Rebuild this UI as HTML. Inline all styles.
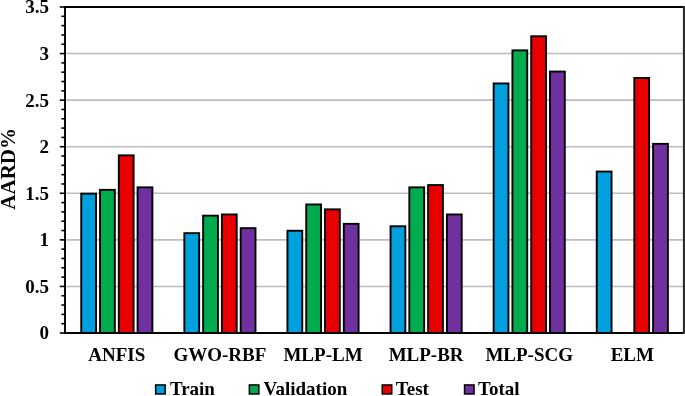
<!DOCTYPE html>
<html><head><meta charset="utf-8"><style>
html,body{margin:0;padding:0;background:#fff;width:685px;height:396px;overflow:hidden}
svg{display:block;will-change:transform}
</style></head><body>
<svg width="685" height="396" viewBox="0 0 685 396">
<rect width="685" height="396" fill="#fff"/>
<line x1="65.0" x2="683.7" y1="286.43" y2="286.43" stroke="#bdbdbd" stroke-width="1.6"/>
<line x1="65.0" x2="683.7" y1="239.86" y2="239.86" stroke="#bdbdbd" stroke-width="1.6"/>
<line x1="65.0" x2="683.7" y1="193.29" y2="193.29" stroke="#bdbdbd" stroke-width="1.6"/>
<line x1="65.0" x2="683.7" y1="146.71" y2="146.71" stroke="#bdbdbd" stroke-width="1.6"/>
<line x1="65.0" x2="683.7" y1="100.14" y2="100.14" stroke="#bdbdbd" stroke-width="1.6"/>
<line x1="65.0" x2="683.7" y1="53.57" y2="53.57" stroke="#bdbdbd" stroke-width="1.6"/>
<rect x="81.25" y="193.65" width="14.80" height="139.35" fill="#00a0de" stroke="#000" stroke-width="1.9"/>
<rect x="100.03" y="189.85" width="14.80" height="143.15" fill="#00ab4e" stroke="#000" stroke-width="1.9"/>
<rect x="118.81" y="155.35" width="14.80" height="177.65" fill="#e80000" stroke="#000" stroke-width="1.9"/>
<rect x="137.59" y="187.35" width="14.80" height="145.65" fill="#7030a0" stroke="#000" stroke-width="1.9"/>
<rect x="184.35" y="233.15" width="14.80" height="99.85" fill="#00a0de" stroke="#000" stroke-width="1.9"/>
<rect x="203.13" y="215.65" width="14.80" height="117.35" fill="#00ab4e" stroke="#000" stroke-width="1.9"/>
<rect x="221.91" y="214.45" width="14.80" height="118.55" fill="#e80000" stroke="#000" stroke-width="1.9"/>
<rect x="240.69" y="228.15" width="14.80" height="104.85" fill="#7030a0" stroke="#000" stroke-width="1.9"/>
<rect x="287.45" y="230.75" width="14.80" height="102.25" fill="#00a0de" stroke="#000" stroke-width="1.9"/>
<rect x="306.23" y="204.45" width="14.80" height="128.55" fill="#00ab4e" stroke="#000" stroke-width="1.9"/>
<rect x="325.01" y="209.35" width="14.80" height="123.65" fill="#e80000" stroke="#000" stroke-width="1.9"/>
<rect x="343.79" y="223.85" width="14.80" height="109.15" fill="#7030a0" stroke="#000" stroke-width="1.9"/>
<rect x="390.55" y="226.25" width="14.80" height="106.75" fill="#00a0de" stroke="#000" stroke-width="1.9"/>
<rect x="409.33" y="187.35" width="14.80" height="145.65" fill="#00ab4e" stroke="#000" stroke-width="1.9"/>
<rect x="428.11" y="185.05" width="14.80" height="147.95" fill="#e80000" stroke="#000" stroke-width="1.9"/>
<rect x="446.89" y="214.45" width="14.80" height="118.55" fill="#7030a0" stroke="#000" stroke-width="1.9"/>
<rect x="493.65" y="83.45" width="14.80" height="249.55" fill="#00a0de" stroke="#000" stroke-width="1.9"/>
<rect x="512.43" y="50.35" width="14.80" height="282.65" fill="#00ab4e" stroke="#000" stroke-width="1.9"/>
<rect x="531.21" y="36.25" width="14.80" height="296.75" fill="#e80000" stroke="#000" stroke-width="1.9"/>
<rect x="549.99" y="71.55" width="14.80" height="261.45" fill="#7030a0" stroke="#000" stroke-width="1.9"/>
<rect x="596.75" y="171.55" width="14.80" height="161.45" fill="#00a0de" stroke="#000" stroke-width="1.9"/>
<rect x="634.31" y="77.95" width="14.80" height="255.05" fill="#e80000" stroke="#000" stroke-width="1.9"/>
<rect x="653.09" y="143.85" width="14.80" height="189.15" fill="#7030a0" stroke="#000" stroke-width="1.9"/>
<line x1="65.0" x2="683.2" y1="7.0" y2="7.0" stroke="#000" stroke-width="1.9"/>
<line x1="65.0" x2="683.2" y1="333.0" y2="333.0" stroke="#000" stroke-width="1.9"/>
<rect x="682.9" y="6.05" width="2.1" height="327.9" fill="#2e2e2e"/>
<line x1="65.0" x2="65.0" y1="6.05" y2="333.95" stroke="#000" stroke-width="1.9"/>
<line x1="59.80" x2="65.0" y1="333.00" y2="333.00" stroke="#000" stroke-width="1.6"/>
<line x1="61.40" x2="65.0" y1="323.69" y2="323.69" stroke="#000" stroke-width="1.6"/>
<line x1="61.40" x2="65.0" y1="314.37" y2="314.37" stroke="#000" stroke-width="1.6"/>
<line x1="61.40" x2="65.0" y1="305.06" y2="305.06" stroke="#000" stroke-width="1.6"/>
<line x1="61.40" x2="65.0" y1="295.74" y2="295.74" stroke="#000" stroke-width="1.6"/>
<line x1="59.80" x2="65.0" y1="286.43" y2="286.43" stroke="#000" stroke-width="1.6"/>
<line x1="61.40" x2="65.0" y1="277.11" y2="277.11" stroke="#000" stroke-width="1.6"/>
<line x1="61.40" x2="65.0" y1="267.80" y2="267.80" stroke="#000" stroke-width="1.6"/>
<line x1="61.40" x2="65.0" y1="258.49" y2="258.49" stroke="#000" stroke-width="1.6"/>
<line x1="61.40" x2="65.0" y1="249.17" y2="249.17" stroke="#000" stroke-width="1.6"/>
<line x1="59.80" x2="65.0" y1="239.86" y2="239.86" stroke="#000" stroke-width="1.6"/>
<line x1="61.40" x2="65.0" y1="230.54" y2="230.54" stroke="#000" stroke-width="1.6"/>
<line x1="61.40" x2="65.0" y1="221.23" y2="221.23" stroke="#000" stroke-width="1.6"/>
<line x1="61.40" x2="65.0" y1="211.91" y2="211.91" stroke="#000" stroke-width="1.6"/>
<line x1="61.40" x2="65.0" y1="202.60" y2="202.60" stroke="#000" stroke-width="1.6"/>
<line x1="59.80" x2="65.0" y1="193.29" y2="193.29" stroke="#000" stroke-width="1.6"/>
<line x1="61.40" x2="65.0" y1="183.97" y2="183.97" stroke="#000" stroke-width="1.6"/>
<line x1="61.40" x2="65.0" y1="174.66" y2="174.66" stroke="#000" stroke-width="1.6"/>
<line x1="61.40" x2="65.0" y1="165.34" y2="165.34" stroke="#000" stroke-width="1.6"/>
<line x1="61.40" x2="65.0" y1="156.03" y2="156.03" stroke="#000" stroke-width="1.6"/>
<line x1="59.80" x2="65.0" y1="146.71" y2="146.71" stroke="#000" stroke-width="1.6"/>
<line x1="61.40" x2="65.0" y1="137.40" y2="137.40" stroke="#000" stroke-width="1.6"/>
<line x1="61.40" x2="65.0" y1="128.09" y2="128.09" stroke="#000" stroke-width="1.6"/>
<line x1="61.40" x2="65.0" y1="118.77" y2="118.77" stroke="#000" stroke-width="1.6"/>
<line x1="61.40" x2="65.0" y1="109.46" y2="109.46" stroke="#000" stroke-width="1.6"/>
<line x1="59.80" x2="65.0" y1="100.14" y2="100.14" stroke="#000" stroke-width="1.6"/>
<line x1="61.40" x2="65.0" y1="90.83" y2="90.83" stroke="#000" stroke-width="1.6"/>
<line x1="61.40" x2="65.0" y1="81.51" y2="81.51" stroke="#000" stroke-width="1.6"/>
<line x1="61.40" x2="65.0" y1="72.20" y2="72.20" stroke="#000" stroke-width="1.6"/>
<line x1="61.40" x2="65.0" y1="62.89" y2="62.89" stroke="#000" stroke-width="1.6"/>
<line x1="59.80" x2="65.0" y1="53.57" y2="53.57" stroke="#000" stroke-width="1.6"/>
<line x1="61.40" x2="65.0" y1="44.26" y2="44.26" stroke="#000" stroke-width="1.6"/>
<line x1="61.40" x2="65.0" y1="34.94" y2="34.94" stroke="#000" stroke-width="1.6"/>
<line x1="61.40" x2="65.0" y1="25.63" y2="25.63" stroke="#000" stroke-width="1.6"/>
<line x1="61.40" x2="65.0" y1="16.31" y2="16.31" stroke="#000" stroke-width="1.6"/>
<line x1="59.80" x2="65.0" y1="7.00" y2="7.00" stroke="#000" stroke-width="1.6"/>
<g font-family="Liberation Serif" font-weight="bold" font-size="19" fill="#000">
<text x="49.0" y="339.36" text-anchor="end">0</text>
<text x="49.0" y="292.79" text-anchor="end">0.5</text>
<text x="49.0" y="246.22" text-anchor="end">1</text>
<text x="49.0" y="199.65" text-anchor="end">1.5</text>
<text x="49.0" y="153.07" text-anchor="end">2</text>
<text x="49.0" y="106.50" text-anchor="end">2.5</text>
<text x="49.0" y="59.93" text-anchor="end">3</text>
<text x="49.0" y="12.56" text-anchor="end">3.5</text>
<text x="116.82" y="360.9" text-anchor="middle">ANFIS</text>
<text x="219.92" y="360.9" text-anchor="middle">GWO-RBF</text>
<text x="323.02" y="360.9" text-anchor="middle">MLP-LM</text>
<text x="426.12" y="360.9" text-anchor="middle">MLP-BR</text>
<text x="529.22" y="360.9" text-anchor="middle">MLP-SCG</text>
<text x="632.32" y="360.9" text-anchor="middle">ELM</text>
<text transform="translate(14.6,168.8) rotate(-90)" text-anchor="middle" font-size="21">AARD%</text>
</g>
<g font-family="Liberation Serif" font-weight="bold" font-size="19" fill="#000">
<rect x="155.65" y="384.95" width="9.5" height="9" fill="#00a0de" stroke="#000" stroke-width="1.5"/>
<text x="169.9" y="394.9">Train</text>
<rect x="249.35" y="384.95" width="9.5" height="9" fill="#00ab4e" stroke="#000" stroke-width="1.5"/>
<text x="263.5" y="394.9">Validation</text>
<rect x="382.25" y="384.95" width="9.5" height="9" fill="#e80000" stroke="#000" stroke-width="1.5"/>
<text x="395.8" y="394.9">Test</text>
<rect x="464.55" y="384.95" width="9.5" height="9" fill="#7030a0" stroke="#000" stroke-width="1.5"/>
<text x="478.0" y="394.9">Total</text>
</g>
</svg>
</body></html>
